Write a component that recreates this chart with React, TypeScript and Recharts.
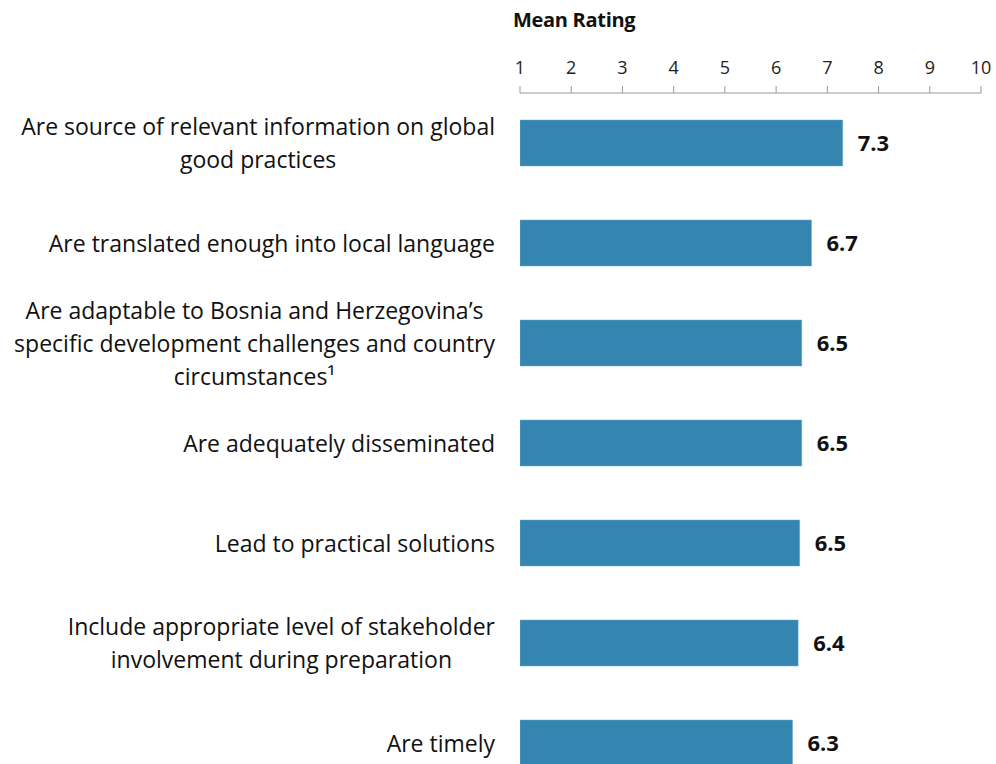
import { BarChart, Bar, XAxis, YAxis, LabelList } from "recharts";

const statements = [
  "Are source of relevant information on global\ngood practices",
  "Are translated enough into local language",
  "Are adaptable to Bosnia and Herzegovina’s\nspecific development challenges and country\ncircumstances¹",
  "Are adequately disseminated",
  "Lead to practical solutions",
  "Include appropriate level of stakeholder\ninvolvement during preparation",
  "Are timely",
];
const meanRatings = [7.3, 6.69, 6.5, 6.5, 6.46, 6.43, 6.32];
const ratingTicks = [1, 2, 3, 4, 5, 6, 7, 8, 9, 10];

const data = statements.map((s, i) => ({ statement: s, rating: meanRatings[i] }));

const FONT = "'Open Sans', Lato, sans-serif";
const BAR_COLOR = "#3486b0";

const StatementTick = (props: any) => {
  const { x, y, payload } = props;
  const lines: string[] = String(payload.value).split("\n");
  const lh = 33;
  const h = lines.length * lh;
  return (
    <foreignObject x={0} y={y - h / 2} width={x} height={h + 6}>
      <div style={{ display: "flex", justifyContent: "flex-end", width: "100%" }}>
        <div
          style={{
            textAlign: "center",
            fontFamily: FONT,
            fontSize: 23,
            lineHeight: `${lh}px`,
            color: "#111",
            whiteSpace: "pre",
          }}
        >
          {lines.join("\n")}
        </div>
      </div>
    </foreignObject>
  );
};

export default function App() {
  return (
    <div style={{ position: "absolute", left: 0, top: 0, width: 996, height: 764, overflow: "hidden", background: "#fff" }}>
      <div
        style={{
          position: "absolute",
          left: 513,
          top: 6,
          fontFamily: FONT,
          fontWeight: 700,
          fontSize: 20,
          letterSpacing: -0.3,
          color: "#111",
        }}
      >
        Mean Rating
      </div>
      <BarChart
        width={996}
        height={800}
        data={data}
        layout="vertical"
        margin={{ top: 53, right: 15, bottom: 7, left: 0 }}
        barCategoryGap={27}
      >
        <XAxis
          type="number"
          orientation="top"
          domain={[1, 10]}
          ticks={ratingTicks}
          interval={0}
          allowDataOverflow
          stroke="#999"
          tickSize={7}
          tickMargin={12}
          tick={{ fill: "#222", fontSize: 18, fontFamily: FONT }}
          height={40}
        />
        <YAxis
          type="category"
          dataKey="statement"
          width={520}
          axisLine={false}
          tickLine={false}
          tickMargin={19}
          tick={<StatementTick />}
          interval={0}
        />
        <Bar dataKey="rating" fill={BAR_COLOR} stroke="#6aa7c8" strokeWidth={0.5} isAnimationActive={false}>
          <LabelList
            dataKey="rating"
            position="right"
            offset={15}
            formatter={(v: any) => Number(v).toFixed(1)}
            style={{ fill: "#111", fontSize: 22, fontWeight: 700, fontFamily: FONT }}
          />
        </Bar>
      </BarChart>
    </div>
  );
}
